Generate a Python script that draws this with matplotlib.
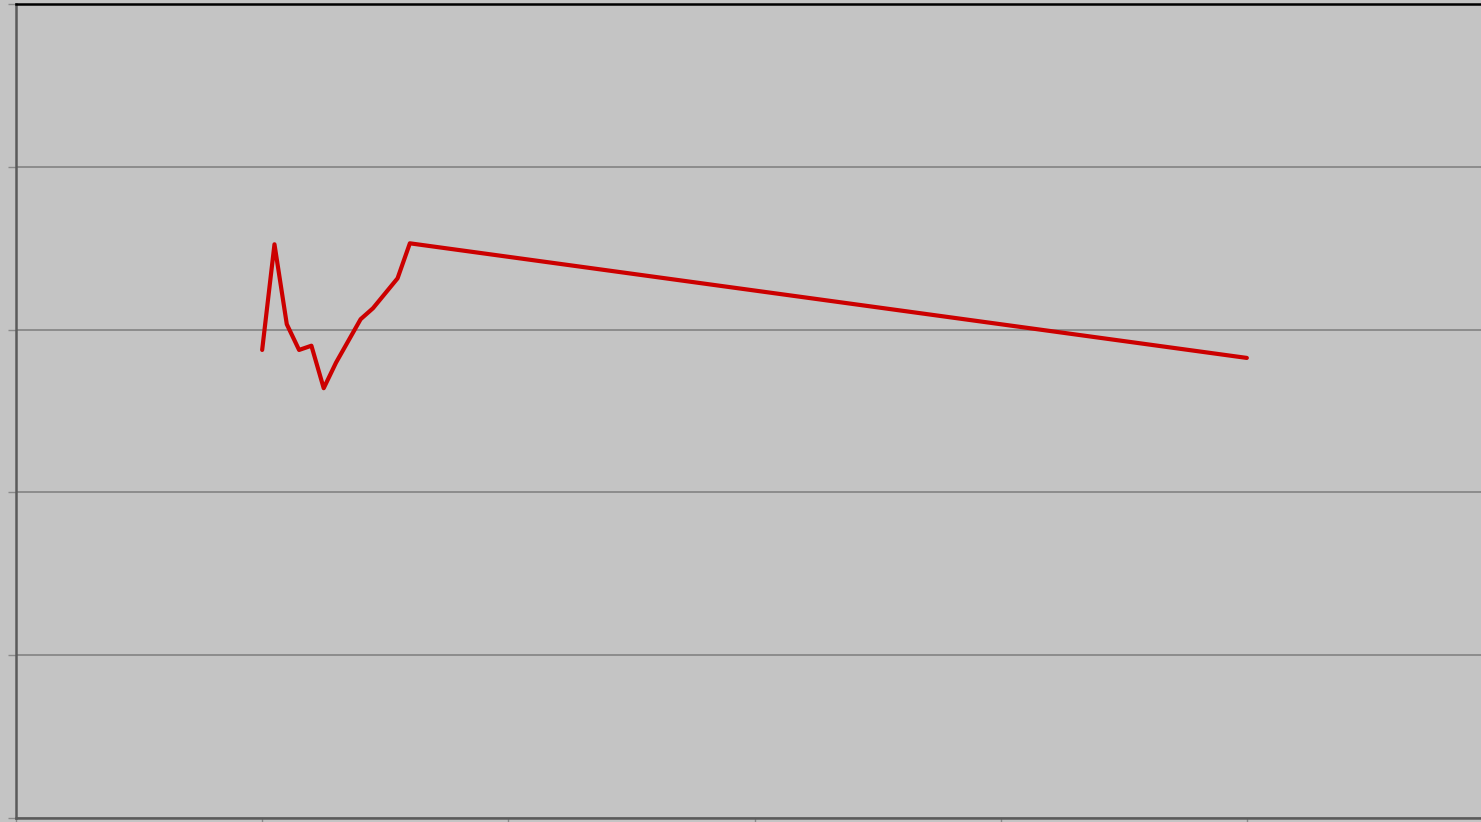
import matplotlib
matplotlib.use("Agg")
import matplotlib.pyplot as plt

# Data (x in axis units, y in gridline units)
x_vals = [20, 21, 22, 23, 24, 25, 26, 28, 29, 31, 32, 100]
y_vals = [2.875, 3.524, 3.033, 2.875, 2.901, 2.640, 2.797, 3.064, 3.131, 3.315, 3.530, 2.826]
x_ticks = [0, 20, 40, 60, 80, 100, 120]
y_ticks = [0, 1, 2, 3, 4, 5]

BG = "#C4C4C4"
fig = plt.figure(figsize=(14.81, 8.22), dpi=100, facecolor=BG)
W, H = 1481, 822
left, right, top, bottom = 16, 1493, 4, 818
ax = fig.add_axes([left / W, (H - bottom) / H, (right - left) / W, (bottom - top) / H])
ax.set_facecolor(BG)

ax.plot(x_vals, y_vals, color="#CC0000", lw=3, solid_joinstyle="round",
        solid_capstyle="round", zorder=3)

ax.set_xlim(0, 120)
ax.set_ylim(0, 5)
ax.set_xticks(x_ticks)
ax.set_yticks(y_ticks)
ax.set_xticklabels([])
ax.set_yticklabels([])
ax.yaxis.grid(True, color="#888888", lw=1.3)
ax.xaxis.grid(False)
ax.tick_params(axis="y", length=6, width=1, color="#8a8a8a", direction="out")
ax.tick_params(axis="x", length=4, width=1, color="#8a8a8a", direction="out")

for s in ["left", "bottom"]:
    ax.spines[s].set_color("#5a5a5a")
    ax.spines[s].set_linewidth(1.8)
ax.spines["top"].set_color("#000000")
ax.spines["top"].set_linewidth(1.8)
ax.spines["right"].set_visible(False)

fig.savefig("out.png", dpi=100, facecolor=BG)
